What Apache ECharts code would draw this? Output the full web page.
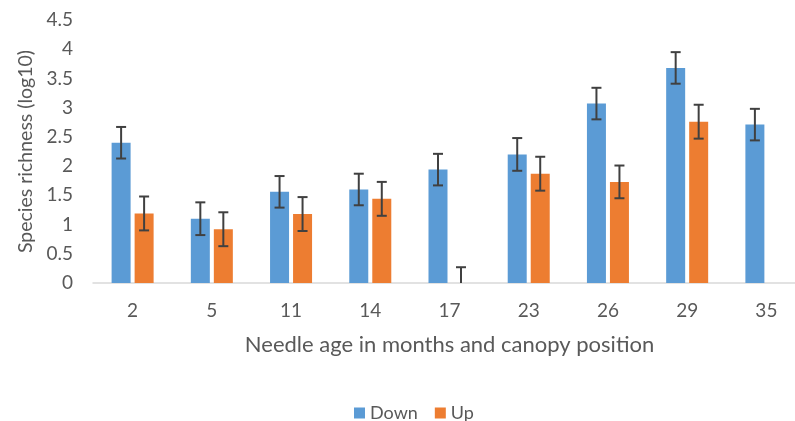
<!DOCTYPE html>
<html>
<head>
<meta charset="utf-8">
<script src="https://cdn.jsdelivr.net/npm/echarts@6/dist/echarts.min.js"></script>
<style>
  html, body { margin: 0; padding: 0; background: #fff; }
</style>
</head>
<body>
<div id="chart" style="width: 795px; height: 421px;"></div>
<script>
const categories = ['2', '5', '11', '14', '17', '23', '26', '29', '35']
const downValues = [2.40, 1.10, 1.56, 1.60, 1.94, 2.20, 3.07, 3.68, 2.71]
const downErrors = [0.27, 0.28, 0.27, 0.27, 0.27, 0.28, 0.27, 0.27, 0.27]
const upValues = [1.19, 0.92, 1.18, 1.44, 0, 1.87, 1.73, 2.76, null]
const upErrors = [0.29, 0.29, 0.29, 0.29, 0.27, 0.29, 0.28, 0.29, null]

const textColor = '#595959'
const fontFamily = 'Lato, "Open Sans", sans-serif'
const barWidth = 19
const barGapPx = 4
const halfOffset = (barWidth + barGapPx) / 2

function errorData(values, errors, side) {
  const out = []
  values.forEach((v, i) => {
    if (v === null || errors[i] === null) return
    out.push([i, v - errors[i], v + errors[i], side])
  })
  return out
}

function renderError(params, api) {
  const idx = api.value(0)
  const side = api.value(3)
  const low = api.coord([idx, api.value(1)])
  const high = api.coord([idx, api.value(2)])
  const x = low[0] + side * halfOffset
  const capHalf = 5
  const style = { stroke: '#404040', lineWidth: 2 }
  return {
    type: 'group',
    children: [
      { type: 'line', shape: { x1: x, y1: high[1], x2: x, y2: low[1] }, style },
      { type: 'line', shape: { x1: x - capHalf, y1: high[1], x2: x + capHalf, y2: high[1] }, style },
      { type: 'line', shape: { x1: x - capHalf, y1: low[1], x2: x + capHalf, y2: low[1] }, style },
    ],
  }
}

const myChart = echarts.init(document.getElementById('chart'))
myChart.setOption({
  animation: false,
  textStyle: { fontFamily },
  color: ['#5B9BD5', '#ED7D31'],
  grid: {
    left: 93,
    width: 713,
    top: 20,
    bottom: 138,
    outerBoundsMode: 'none',
    containLabel: false,
  },
  legend: {
    data: ['Down', 'Up'],
    left: 349,
    top: 399,
    icon: 'rect',
    itemWidth: 11,
    itemHeight: 11,
    itemGap: 17,
    textStyle: { color: textColor, fontSize: 18, fontFamily },
  },
  xAxis: {
    type: 'category',
    data: categories,
    name: 'Needle age in months and canopy position',
    nameLocation: 'middle',
    nameGap: 51,
    nameTextStyle: { color: textColor, fontSize: 22, fontFamily },
    axisLine: { lineStyle: { color: '#d9d9d9', width: 1.5 } },
    axisTick: { show: false },
    axisLabel: { color: textColor, fontSize: 19, margin: 18 },
  },
  yAxis: {
    type: 'value',
    min: 0,
    max: 4.5,
    interval: 0.5,
    name: 'Species richness (log10)',
    nameLocation: 'middle',
    nameGap: 54,
    nameTextStyle: { color: textColor, fontSize: 19.5, fontFamily },
    axisLine: { show: false },
    axisTick: { show: false },
    splitLine: { show: false },
    axisLabel: { color: textColor, fontSize: 19, margin: 20 },
  },
  series: [
    {
      name: 'Down',
      type: 'bar',
      data: downValues,
      barWidth: barWidth,
      barGap: (barGapPx / barWidth * 100).toFixed(1) + '%',
    },
    {
      name: 'Up',
      type: 'bar',
      data: upValues,
      barWidth: barWidth,
    },
    {
      type: 'custom',
      renderItem: renderError,
      data: errorData(downValues, downErrors, -1),
      clip: true,
      z: 10,
    },
    {
      type: 'custom',
      renderItem: renderError,
      data: errorData(upValues, upErrors, 1),
      clip: true,
      z: 10,
    },
  ],
})
</script>
</body>
</html>
